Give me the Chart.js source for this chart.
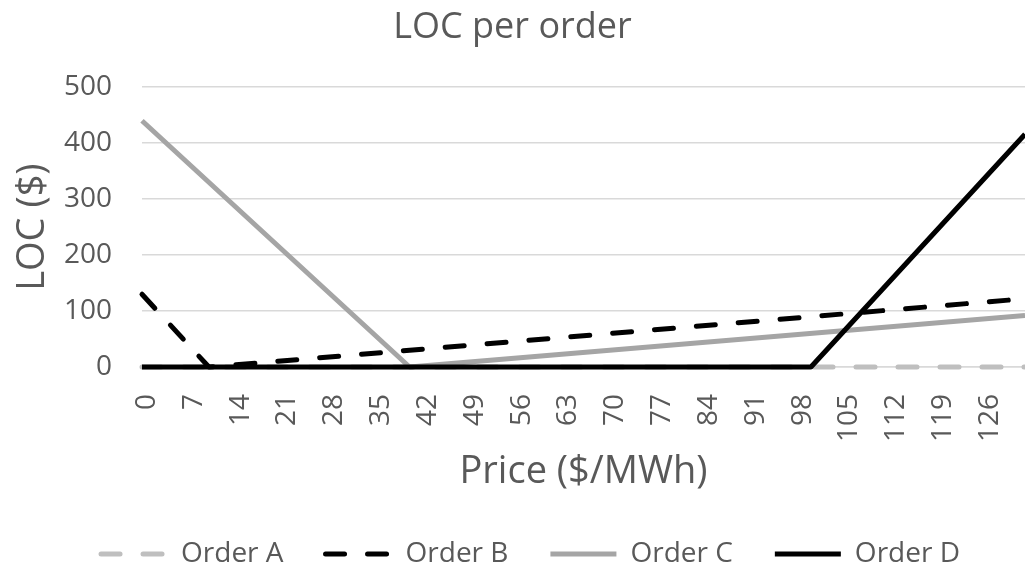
<!DOCTYPE html>
<html>
<head>
<meta charset="utf-8">
<title>LOC per order</title>
<script src="https://cdn.jsdelivr.net/npm/chart.js@4/dist/chart.umd.min.js"></script>
<style>
  html, body { margin: 0; padding: 0; background: #fff; }
  #wrap { width: 1025px; height: 569px; }
</style>
</head>
<body>
<div id="wrap"><canvas id="chart"></canvas></div>
<script>
// values: price ($/MWh) where each line bends, and LOC ($) there
const priceA = [0, 132];
const locA = [0, 0];
const priceB = [0, 10, 132];
const locB = [130, 0, 122];
const priceC = [0, 40, 132];
const locC = [440, 0, 92];
const priceD = [0, 100, 132];
const locD = [0, 0, 416];

// axis labels
const priceTicks = [0, 7, 14, 21, 28, 35, 42, 49, 56, 63, 70, 77, 84, 91, 98, 105, 112, 119, 126];
const locTicks = [0, 100, 200, 300, 400, 500];

const textColor = '#595959';
const fontFamily = '"Open Sans", "Noto Sans", sans-serif';
const dashPattern = [19, 23];

function toPoints(xs, ys) {
  return xs.map((x, i) => ({ x: x, y: ys[i] }));
}

// legend swatches: keep the dataset's dash and width, not the point's
function lineLegendLabels(chart) {
  const items = Chart.defaults.plugins.legend.labels.generateLabels(chart);
  items.forEach(item => {
    const ds = chart.data.datasets[item.datasetIndex];
    item.lineDash = ds.borderDash || [];
    item.lineWidth = ds.borderWidth;
    item.strokeStyle = ds.borderColor;
    item.lineCap = ds.borderCapStyle || 'butt';
  });
  return items;
}

// small nudge so the legend sits where the reference has it
const legendNudge = {
  id: 'legendNudge',
  afterLayout(chart) {
    const lg = chart.legend;
    lg.left += 18;
    lg.right += 18;
    lg.top += 9;
    lg.bottom += 9;
  }
};

const ctx = document.getElementById('chart').getContext('2d');
const locChart = new Chart(ctx, {
  type: 'line',
  data: {
    datasets: [
      {
        label: 'Order A',
        data: toPoints(priceA, locA),
        borderColor: '#bfbfbf',
        borderWidth: 5,
        borderDash: dashPattern,
        borderCapStyle: 'round',
        order: 4
      },
      {
        label: 'Order B',
        data: toPoints(priceB, locB),
        borderColor: '#000000',
        borderWidth: 5,
        borderDash: dashPattern,
        borderCapStyle: 'round',
        order: 3
      },
      {
        label: 'Order C',
        data: toPoints(priceC, locC),
        borderColor: '#a5a5a5',
        borderWidth: 5,
        order: 2
      },
      {
        label: 'Order D',
        data: toPoints(priceD, locD),
        borderColor: '#000000',
        borderWidth: 5,
        order: 1
      }
    ]
  },
  options: {
    responsive: true,
    maintainAspectRatio: false,
    animation: false,
    devicePixelRatio: 1,
    datasets: {
      line: { clip: false }  // lines on the zero line keep their full width
    },
    elements: {
      point: { radius: 0, hoverRadius: 0 },
      line: { tension: 0, borderJoinStyle: 'round' }
    },
    layout: {
      padding: { left: 0, right: 0, top: 0, bottom: 0 }
    },
    scales: {
      x: {
        type: 'linear',
        min: 0,
        max: 132,
        afterBuildTicks: axis => {
          axis.ticks = priceTicks.map(v => ({ value: v }));
        },
        afterFit: axis => {
          axis.height = 122;
          axis.paddingRight = 0;
        },
        grid: { display: false },
        border: { display: true, color: '#d9d9d9', width: 1.5 },
        ticks: {
          autoSkip: false,
          minRotation: 90,
          maxRotation: 90,
          padding: 19,
          labelOffset: 5,
          color: textColor,
          font: { family: fontFamily, size: 28 }
        },
        title: {
          display: true,
          text: 'Price ($/MWh)',
          color: textColor,
          font: { family: fontFamily, size: 38 },
          padding: { top: 0, bottom: -6 }
        }
      },
      y: {
        min: 0,
        max: 500,
        afterBuildTicks: axis => {
          axis.ticks = locTicks.map(v => ({ value: v }));
        },
        afterFit: axis => {
          axis.width = 142;
        },
        grid: { color: '#d9d9d9', lineWidth: 1.5, drawTicks: false },
        border: { display: false },
        ticks: {
          padding: 30,
          color: textColor,
          font: { family: fontFamily, size: 28 }
        },
        title: {
          display: true,
          text: 'LOC ($)',
          color: textColor,
          font: { family: fontFamily, size: 38 },
          padding: { top: 10, bottom: 0 }
        }
      }
    },
    plugins: {
      title: {
        display: true,
        text: 'LOC per order',
        color: textColor,
        font: { family: fontFamily, size: 36, weight: 'normal' },
        padding: { top: 6, bottom: 38 }
      },
      legend: {
        position: 'bottom',
        labels: {
          usePointStyle: true,
          pointStyle: 'line',
          pointStyleWidth: 66,
          padding: 42,
          color: textColor,
          font: { family: fontFamily, size: 28 },
          generateLabels: lineLegendLabels,
          sort: (a, b) => a.datasetIndex - b.datasetIndex
        }
      },
      tooltip: { enabled: false }
    }
  },
  plugins: [legendNudge]
});
</script>
</body>
</html>
